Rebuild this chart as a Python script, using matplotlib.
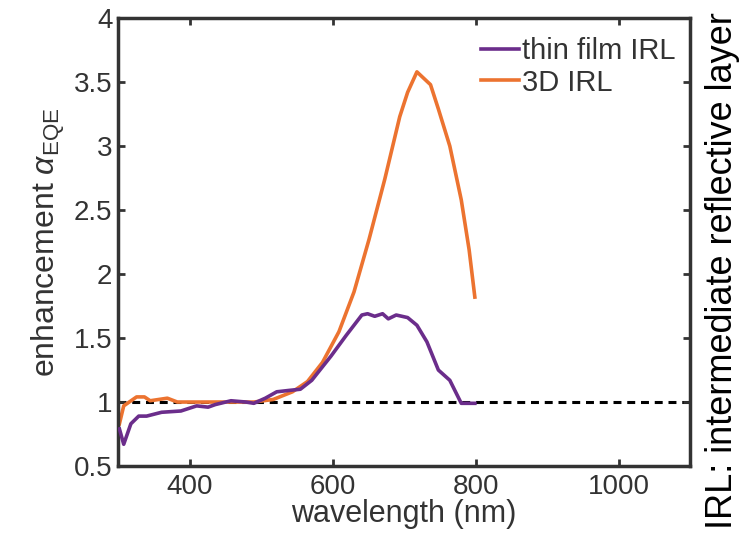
import numpy as np
import matplotlib
matplotlib.use("Agg")
import matplotlib.pyplot as plt

plt.rcParams['font.family'] = ['Liberation Sans', 'DejaVu Sans']
plt.rcParams['mathtext.fontset'] = 'custom'
plt.rcParams['mathtext.it'] = 'Liberation Sans:italic'
plt.rcParams['mathtext.rm'] = 'Liberation Sans'

# values
wl_3d = [302, 308, 326, 337, 345, 369, 383, 436, 490, 517, 544, 565, 586, 609,
         630, 651, 673, 694, 705, 718, 737, 748, 764, 780, 791, 799]
enh_3d = [0.83, 0.97, 1.04, 1.04, 1.01, 1.03, 1.0, 1.0, 1.0, 1.02, 1.08, 1.16, 1.31, 1.55,
          1.86, 2.27, 2.74, 3.23, 3.42, 3.58, 3.48, 3.29, 3.0, 2.58, 2.19, 1.82]

wl_thin = [302, 308, 318, 329, 340, 361, 388, 410, 426, 436, 458, 479, 490, 506, 522,
           538, 555, 571, 598, 619, 641, 649, 659, 670, 678, 689, 705, 718, 732, 748,
           764, 780, 799]
enh_thin = [0.79, 0.67, 0.83, 0.89, 0.89, 0.92, 0.93, 0.97, 0.96, 0.98, 1.01, 1.0, 0.99,
            1.03, 1.08, 1.09, 1.10, 1.17, 1.36, 1.52, 1.68, 1.69, 1.67, 1.69, 1.65, 1.68,
            1.66, 1.60, 1.47, 1.25, 1.17, 0.99, 0.99]

xticks = [400, 600, 800, 1000]
yticks = [0.5, 1, 1.5, 2, 2.5, 3, 3.5, 4]
ytick_labels = ["0.5", "1", "1.5", "2", "2.5", "3", "3.5", "4"]

fig = plt.figure(figsize=(7.43, 5.39), dpi=100)
ax = fig.add_axes([0.1588, 0.1354, 0.770, 0.831])

ax.axhline(1, color="black", linestyle=(0, (2.6, 1.9)), linewidth=2.2, zorder=1)
ax.plot(wl_thin, enh_thin, color="#6B2D8B", linewidth=2.6, label="thin film IRL", zorder=3)
ax.plot(wl_3d, enh_3d, color="#EC7330", linewidth=2.6, label="3D IRL", zorder=2)

ax.set_xlim(300, 1100)
ax.set_ylim(0.5, 4)
ax.set_xticks(xticks)
ax.set_yticks(yticks)
ax.set_yticklabels(ytick_labels)
ax.tick_params(direction="in", length=5, width=2, labelsize=20, color="#333333",
               top=True, right=True, labelcolor="#333333")
ax.tick_params(axis="x", pad=6)
ax.tick_params(axis="y", pad=4)
for s in ax.spines.values():
    s.set_linewidth(2.5)
    s.set_color("#333333")

ax.set_xlabel("wavelength (nm)", fontsize=22, color="#333333", labelpad=-1)
ax.set_ylabel(r"enhancement $\alpha_{\rm EQE}$", fontsize=23, color="#333333", labelpad=5)

leg = ax.legend(loc="upper right", frameon=False, fontsize=21, handlelength=1.3,
                handletextpad=0.12, labelspacing=0.12, borderaxespad=0.1,
                bbox_to_anchor=(1.0, 0.99))
for t in leg.get_texts():
    t.set_color("#333333")

fig.text(0.973, 0.498, "IRL: intermediate reflective layer", rotation=90,
         ha="center", va="center", fontsize=26)

fig.savefig("out.png", dpi=100)
